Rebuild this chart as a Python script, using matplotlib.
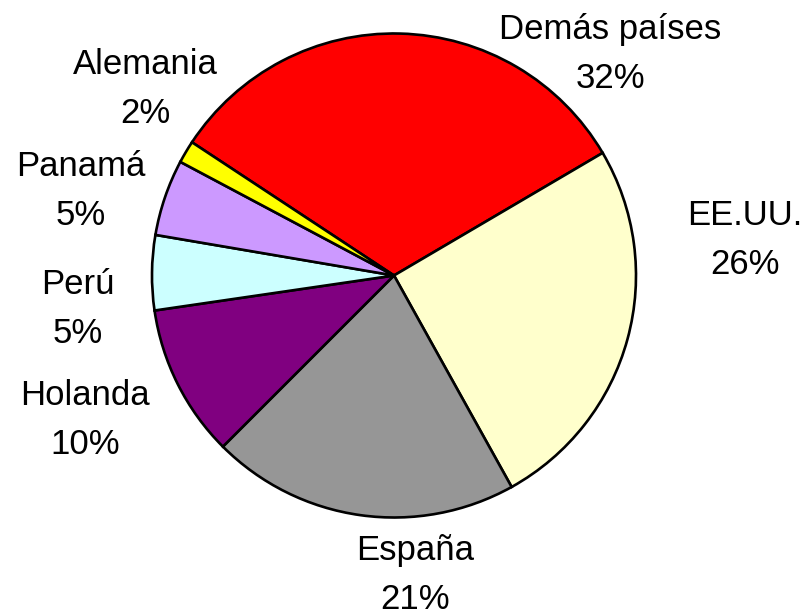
import matplotlib
matplotlib.use("Agg")
import matplotlib.pyplot as plt

categories = ["Demás países", "EE.UU.", "España", "Holanda", "Perú", "Panamá", "Alemania"]
values = [32.3, 25.4, 20.6, 10.2, 5.0, 5.1, 1.5]
pct_labels = ["32%", "26%", "21%", "10%", "5%", "5%", "2%"]
colors = ["#FF0000", "#FFFFCC", "#969696", "#800080", "#CCFFFF", "#CC99FF", "#FFFF00"]

plt.rcParams['font.family'] = ['Liberation Sans', 'DejaVu Sans']

W, H = 805, 615
fig = plt.figure(figsize=(8.05, 6.15), dpi=100)
ax = fig.add_axes([0, 0, 1, 1])
ax.axis('off')

ax.pie(values, colors=colors, startangle=146.6, counterclock=False,
       center=(394, H - 275.5), radius=242,
       wedgeprops=dict(edgecolor='black', linewidth=1.9))
ax.set_xlim(0, W)
ax.set_ylim(0, H)
ax.set_aspect('equal')

label_pos = [(610, 54), (745, 240), (415, 575), (85, 420), (78, 309), (81, 191), (145, 89)]
for cat, pct, (x, y) in zip(categories, pct_labels, label_pos):
    ax.text(x, H - y, f"{cat}\n{pct}", ha='center', va='center', fontsize=25,
            linespacing=1.6, color='black')

fig.savefig("out.png", dpi=100)
